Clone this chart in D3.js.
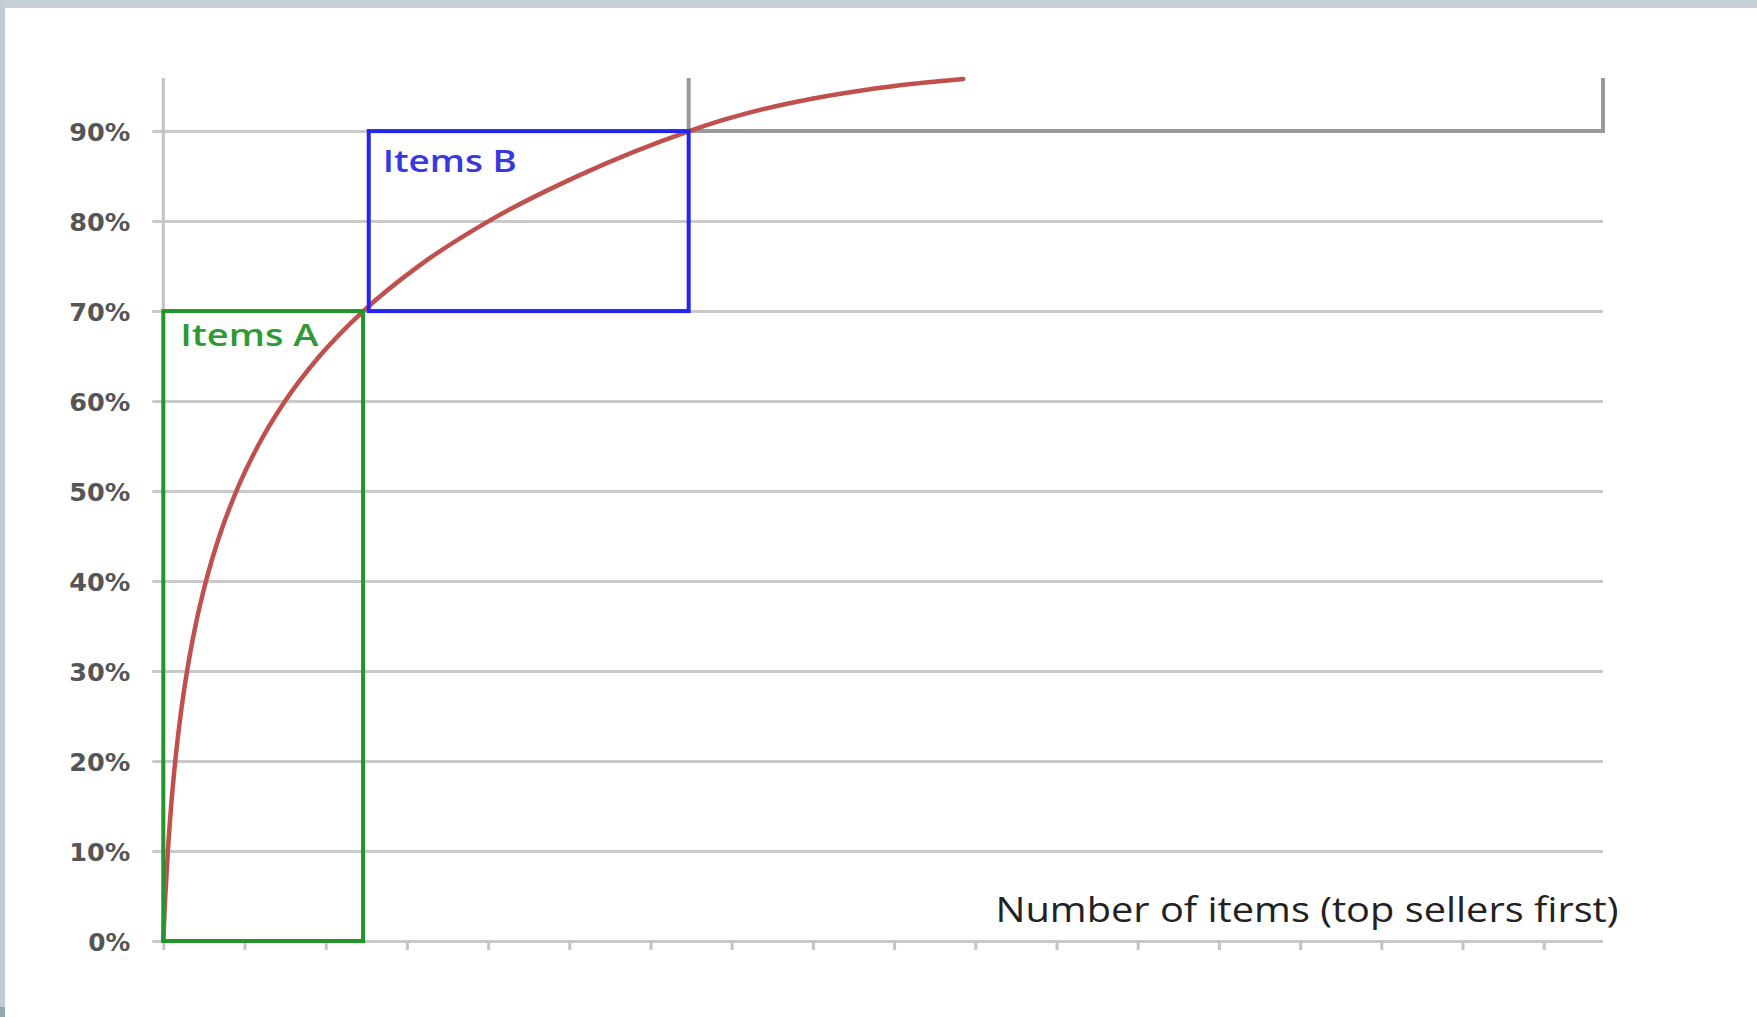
<!DOCTYPE html>
<html>
<head>
<meta charset="utf-8">
<script src="https://cdn.jsdelivr.net/npm/d3@7"></script>
<style>
  html, body { margin: 0; padding: 0; background: #ffffff; }
  svg { display: block; }
</style>
</head>
<body>
<svg id="chart" width="1757" height="1017"></svg>
<script>
// ---- data ----
const yTickValues = [0, 0.1, 0.2, 0.3, 0.4, 0.5, 0.6, 0.7, 0.8, 0.9];
const yTickLabels = ["0%", "10%", "20%", "30%", "40%", "50%", "60%", "70%", "80%", "90%"];
const xTickValues = [0, 10, 20, 30, 40, 50, 60, 70, 80, 90, 100, 110, 120, 130, 140, 150, 160, 170];
const curveItems = [0, 0.093, 0.25, 0.565, 0.966, 1.472, 2.115, 2.927, 3.956, 5.26, 6.91, 9.0, 11.65, 15.0, 19.25, 24.63, 31.44, 40.07, 51.01, 64.78, 68.97, 73.89, 80.05, 86.21, 92.37, 98.52];
const curveShare = [0, 0.02, 0.05, 0.10, 0.15, 0.20, 0.25, 0.30, 0.35, 0.40, 0.45, 0.50, 0.55, 0.60, 0.65, 0.70, 0.75, 0.80, 0.85, 0.90, 0.9124, 0.9244, 0.9363, 0.9455, 0.9526, 0.958];
const groupNames = ["Items A", "Items B"];
const groupItemStart = [0, 25.3];
const groupItemEnd = [24.6, 64.7];
const groupShareLow = [0, 0.7];
const groupShareHigh = [0.7, 0.9];
const restItemStart = 64.7;
const restShareLow = 0.9;
const xTitle = "Number of items (top sellers first)";
const xMax = 177.3;
const yMax = 0.959;

(function () {
  // ---- layout ----
  const svg = d3.select("#chart");
  const pLeft = 163.3, pRight = 1603, pTop = 78, pBottom = 941;
  const x = d3.scaleLinear().domain([0, xMax]).range([pLeft, pRight]);
  const y = d3.scaleLinear().domain([0, yMax]).range([pBottom, pTop]);

  // frame strips
  svg.append("rect").attr("x", 0).attr("y", 0).attr("width", 1757).attr("height", 8).attr("fill", "#c7d2d8");
  svg.append("rect").attr("x", 0).attr("y", 0).attr("width", 5).attr("height", 1007).attr("fill", "#c2cdd3");
  svg.append("rect").attr("x", 0).attr("y", 1007).attr("width", 5).attr("height", 10).attr("fill", "#95a9b1");

  function fit(sel, w) {
    sel.attr("textLength", w).attr("lengthAdjust", "spacingAndGlyphs");
  }

  // y axis with gridlines
  const yAxis = d3.axisLeft(y).tickValues(yTickValues)
    .tickFormat((d, i) => yTickLabels[i])
    .tickSize(-(pRight - pLeft)).tickPadding(33);
  const gy = svg.append("g").attr("transform", `translate(${pLeft},0)`).call(yAxis);
  gy.select(".domain").remove();
  gy.selectAll(".tick line").attr("x1", -11).attr("stroke", "#c9c9c9").attr("stroke-width", 3);
  gy.selectAll(".tick text")
    .attr("font-family", "DejaVu Sans, Verdana, sans-serif")
    .attr("font-weight", "bold")
    .attr("font-size", 25)
    .attr("fill", "#555555")
    .attr("dy", "0.36em")
    .each(function (d, i) {
      const target = yTickLabels[i].length === 2 ? 42 : 61;
      fit(d3.select(this), target);
    });

  // y axis line
  svg.append("line").attr("x1", pLeft).attr("x2", pLeft).attr("y1", pTop).attr("y2", pBottom)
    .attr("stroke", "#c2c2c2").attr("stroke-width", 3);

  // x axis ticks
  const xAxis = d3.axisBottom(x).tickValues(xTickValues).tickSize(9).tickFormat("");
  const gx = svg.append("g").attr("transform", `translate(0,${pBottom})`).call(xAxis);
  gx.select(".domain").remove();
  gx.selectAll(".tick line").attr("stroke", "#c4c4c4").attr("stroke-width", 3);

  // remaining-items box (top cut off)
  svg.append("path")
    .attr("d", `M${x(restItemStart)},${pTop} L${x(restItemStart)},${y(restShareLow)} L${x(xMax)},${y(restShareLow)} L${x(xMax)},${pTop}`)
    .attr("fill", "none").attr("stroke", "#9a9a9a").attr("stroke-width", 4);

  // curve
  const pts = curveItems.map((v, i) => [v, curveShare[i]]);
  const line = d3.line().x(d => x(d[0])).y(d => y(d[1])).curve(d3.curveMonotoneX);
  svg.append("path").datum(pts).attr("d", line)
    .attr("fill", "none").attr("stroke", "#c0504d").attr("stroke-width", 4.5).attr("stroke-linecap", "round");

  // group boxes
  const colors = ["#23952a", "#2424f0"];
  const textColors = ["#2e9a36", "#3838e0"];
  const labelWidth = [138, 134];
  groupNames.forEach((name, i) => {
    const x0 = x(groupItemStart[i]), x1 = x(groupItemEnd[i]);
    const y0 = y(groupShareHigh[i]), y1 = y(groupShareLow[i]);
    svg.append("rect").attr("x", x0).attr("y", y0).attr("width", x1 - x0).attr("height", y1 - y0)
      .attr("fill", "none").attr("stroke", colors[i]).attr("stroke-width", 4);
    const t = svg.append("text")
      .attr("x", x0 + (i === 0 ? 17 : 14))
      .attr("y", y0 + (i === 0 ? 35 : 41))
      .attr("font-family", "Open Sans, sans-serif")
      .attr("font-weight", 600)
      .attr("font-size", 31)
      .attr("fill", textColors[i])
      .text(name);
    fit(t, labelWidth[i]);
  });

  // x title
  const xt = svg.append("text")
    .attr("x", 995.5).attr("y", 922)
    .attr("font-family", "Open Sans, sans-serif")
    .attr("font-size", 34)
    .attr("fill", "#222222")
    .text(xTitle);
  fit(xt, 623);
})();
</script>
</body>
</html>
